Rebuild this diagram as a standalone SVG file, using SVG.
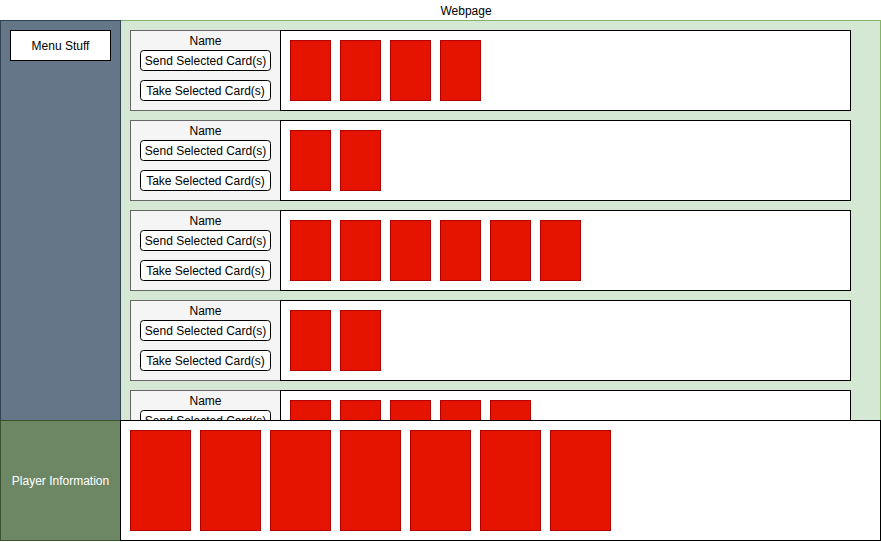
<svg xmlns="http://www.w3.org/2000/svg" width="881" height="542" viewBox="0 0 881 542">
  <style>
    text { font-family: "Liberation Sans", Arial, sans-serif; font-size: 12px; fill: #000; }
    .page { fill: #d5e8d4; stroke: #82b366; }
    .side { fill: #647687; stroke: #314354; }
    .box { fill: #ffffff; stroke: #000000; }
    .ctrl { fill: #f5f5f5; stroke: #666666; }
    .btn { fill: #ffffff; stroke: #000000; }
    .card { fill: #e51400; stroke: #b20000; }
    .info { fill: #6d8764; stroke: #3a5431; }
    .light { fill: #ffffff; }
  </style>
  <defs>
    <g id="controls">
      <rect class="ctrl" x="0" y="0" width="150" height="80"/>
      <text x="75" y="14" text-anchor="middle">Name</text>
      <rect class="btn" x="10" y="20" width="130" height="20" rx="3"/>
      <text x="75" y="34.5" text-anchor="middle">Send Selected Card(s)</text>
      <rect class="btn" x="10" y="50" width="130" height="20" rx="3"/>
      <text x="75" y="64.5" text-anchor="middle">Take Selected Card(s)</text>
      <rect class="box" x="150" y="0" width="570" height="80"/>
    </g>
    <rect id="card" class="card" width="40" height="60"/>
    <rect id="bigcard" class="card" width="60" height="100"/>
  </defs>

  <text x="466" y="15" text-anchor="middle">Webpage</text>

  <g id="webpage">
    <rect class="page" x="120.5" y="20.5" width="760" height="400"/>
  </g>

  <g id="sidebar">
    <rect class="side" x="0.5" y="20.5" width="120" height="400"/>
  </g>

  <g id="menu">
    <rect class="box" x="10.5" y="30.5" width="100" height="30"/>
    <text x="60.5" y="50" text-anchor="middle">Menu Stuff</text>
  </g>

  <g id="player-1" transform="translate(130.5 30.5)">
    <use href="#controls"/>
    <use href="#card" x="160" y="10"/>
    <use href="#card" x="210" y="10"/>
    <use href="#card" x="260" y="10"/>
    <use href="#card" x="310" y="10"/>
  </g>

  <g id="player-2" transform="translate(130.5 120.5)">
    <use href="#controls"/>
    <use href="#card" x="160" y="10"/>
    <use href="#card" x="210" y="10"/>
  </g>

  <g id="player-3" transform="translate(130.5 210.5)">
    <use href="#controls"/>
    <use href="#card" x="160" y="10"/>
    <use href="#card" x="210" y="10"/>
    <use href="#card" x="260" y="10"/>
    <use href="#card" x="310" y="10"/>
    <use href="#card" x="360" y="10"/>
    <use href="#card" x="410" y="10"/>
  </g>

  <g id="player-4" transform="translate(130.5 300.5)">
    <use href="#controls"/>
    <use href="#card" x="160" y="10"/>
    <use href="#card" x="210" y="10"/>
  </g>

  <g id="player-5" transform="translate(130.5 390.5)">
    <use href="#controls"/>
    <use href="#card" x="160" y="10"/>
    <use href="#card" x="210" y="10"/>
    <use href="#card" x="260" y="10"/>
    <use href="#card" x="310" y="10"/>
    <use href="#card" x="360" y="10"/>
  </g>

  <g id="player-info">
    <rect class="info" x="0.5" y="420.5" width="120" height="120"/>
    <text class="light" x="60.5" y="485" text-anchor="middle">Player Information</text>
  </g>

  <g id="hand">
    <rect class="box" x="120.5" y="420.5" width="760" height="120"/>
    <use href="#bigcard" x="130.5" y="430.5"/>
    <use href="#bigcard" x="200.5" y="430.5"/>
    <use href="#bigcard" x="270.5" y="430.5"/>
    <use href="#bigcard" x="340.5" y="430.5"/>
    <use href="#bigcard" x="410.5" y="430.5"/>
    <use href="#bigcard" x="480.5" y="430.5"/>
    <use href="#bigcard" x="550.5" y="430.5"/>
  </g>

  <g id="connectors"/>
</svg>
